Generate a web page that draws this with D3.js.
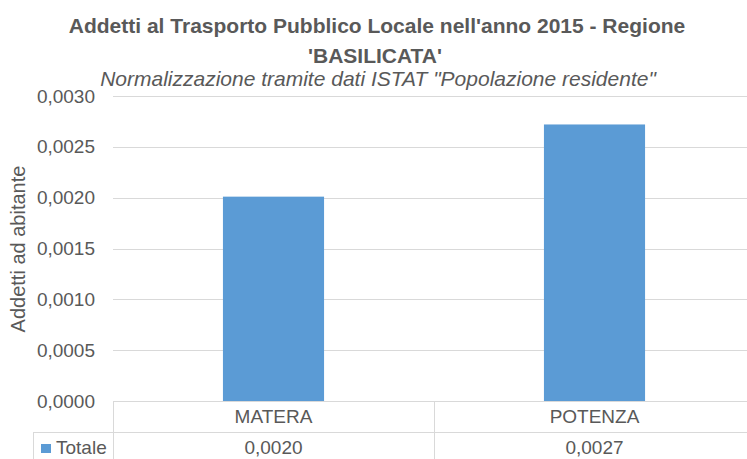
<!DOCTYPE html>
<html>
<head>
<meta charset="utf-8">
<script src="https://cdn.jsdelivr.net/npm/d3@7"></script>
<style>
  body { margin: 0; background: #fff; }
  svg { display: block; font-family: "Liberation Sans Narrow", "Liberation Sans", sans-serif; }
</style>
</head>
<body>
<svg id="chart"></svg>
<script>
// dati
var categories = ["MATERA", "POTENZA"]
var values = [0.00201, 0.00272]
var tableLabels = ["0,0020", "0,0027"]
var seriesName = "Totale"
var yTicks = [0, 0.0005, 0.001, 0.0015, 0.002, 0.0025, 0.003]

var dimensions = {
    width: 747,
    height: 459,
    margin: { top: 96, bottom: 58, left: 113, right: -8 }
}

var textColor = "#595959"
var gridColor = "#d9d9d9"
var barColor = "#5b9bd5"

var svg = d3.select("#chart")
    .attr("width", dimensions.width)
    .attr("height", dimensions.height)

var yBottom = dimensions.height - dimensions.margin.bottom

var yScale = d3.scaleLinear()
    .domain([0, 0.003])
    .range([yBottom, dimensions.margin.top])

var xScale = d3.scaleBand()
    .domain(categories)
    .range([dimensions.margin.left, dimensions.width - dimensions.margin.right])
    .padding(0)

var barWidth = xScale.bandwidth() * 0.315
var fmt = d => d3.format(".4f")(d).replace(".", ",")

// griglia
svg.append("g")
    .selectAll("line")
    .data(yTicks.filter(d => d > 0))
    .enter()
    .append("line")
    .attr("x1", dimensions.margin.left)
    .attr("x2", dimensions.width)
    .attr("y1", d => Math.round(yScale(d)) + 0.5)
    .attr("y2", d => Math.round(yScale(d)) + 0.5)
    .style("stroke", gridColor)
    .style("stroke-width", 1)

// etichette asse y
svg.append("g")
    .selectAll("text")
    .data(yTicks)
    .enter()
    .append("text")
    .attr("x", 95)
    .attr("y", d => yScale(d))
    .attr("dy", "0.35em")
    .style("text-anchor", "end")
    .style("font-size", "19px")
    .style("fill", textColor)
    .text(fmt)

// barre
svg.append("g")
    .selectAll("rect")
    .data(values)
    .enter()
    .append("rect")
    .attr("x", (d, i) => xScale(categories[i]) + (xScale.bandwidth() - barWidth) / 2)
    .attr("y", d => yScale(d))
    .attr("width", barWidth)
    .attr("height", d => yBottom - yScale(d))
    .style("fill", barColor)

// tabella dati
var rowH = 31
var table = svg.append("g")
    .style("stroke", gridColor)
    .style("stroke-width", 1)
    .style("shape-rendering", "crispEdges")

table.append("line")
    .attr("x1", dimensions.margin.left).attr("x2", dimensions.width)
    .attr("y1", yBottom + 0.5).attr("y2", yBottom + 0.5)
table.append("line")
    .attr("x1", 33).attr("x2", dimensions.width)
    .attr("y1", yBottom + rowH + 0.5).attr("y2", yBottom + rowH + 0.5)
table.append("line")
    .attr("x1", 33.5).attr("x2", 33.5)
    .attr("y1", yBottom + rowH).attr("y2", dimensions.height)
table.selectAll(".vsep")
    .data(categories)
    .enter()
    .append("line")
    .attr("x1", d => xScale(d) + 0.5).attr("x2", d => xScale(d) + 0.5)
    .attr("y1", yBottom).attr("y2", dimensions.height)

svg.append("g")
    .selectAll("text")
    .data(categories)
    .enter()
    .append("text")
    .attr("x", d => xScale(d) + xScale.bandwidth() / 2)
    .attr("y", yBottom + rowH / 2)
    .attr("dy", "0.35em")
    .style("text-anchor", "middle")
    .style("font-size", "19px")
    .style("fill", textColor)
    .text(d => d)

svg.append("g")
    .selectAll("text")
    .data(tableLabels)
    .enter()
    .append("text")
    .attr("x", (d, i) => xScale(categories[i]) + xScale.bandwidth() / 2)
    .attr("y", yBottom + rowH * 1.5)
    .attr("dy", "0.35em")
    .style("text-anchor", "middle")
    .style("font-size", "19px")
    .style("fill", textColor)
    .text(d => d)

// legenda nella tabella
svg.append("rect")
    .attr("x", 41).attr("y", 444)
    .attr("width", 10).attr("height", 9)
    .style("fill", barColor)
svg.append("text")
    .attr("x", 56).attr("y", 454)
    .style("font-size", "19px")
    .style("fill", textColor)
    .text(seriesName)

// titolo
svg.append("text")
    .attr("x", 377).attr("y", 33)
    .attr("text-anchor", "middle")
    .style("font-size", "21px")
    .style("font-weight", "bold")
    .style("fill", textColor)
    .text("Addetti al Trasporto Pubblico Locale nell'anno 2015 - Regione")

svg.append("text")
    .attr("x", 375).attr("y", 63)
    .attr("text-anchor", "middle")
    .style("font-size", "21px")
    .style("font-weight", "bold")
    .style("fill", textColor)
    .text("'BASILICATA'")

svg.append("text")
    .attr("x", 378).attr("y", 86)
    .attr("text-anchor", "middle")
    .style("font-size", "21px")
    .style("font-style", "italic")
    .style("fill", textColor)
    .text("Normalizzazione tramite dati ISTAT \"Popolazione residente\"")

// titolo asse y
svg.append("text")
    .attr("transform", "translate(25,249)rotate(-90)")
    .attr("text-anchor", "middle")
    .style("font-size", "20px")
    .style("fill", textColor)
    .text("Addetti ad abitante")
</script>
</body>
</html>
